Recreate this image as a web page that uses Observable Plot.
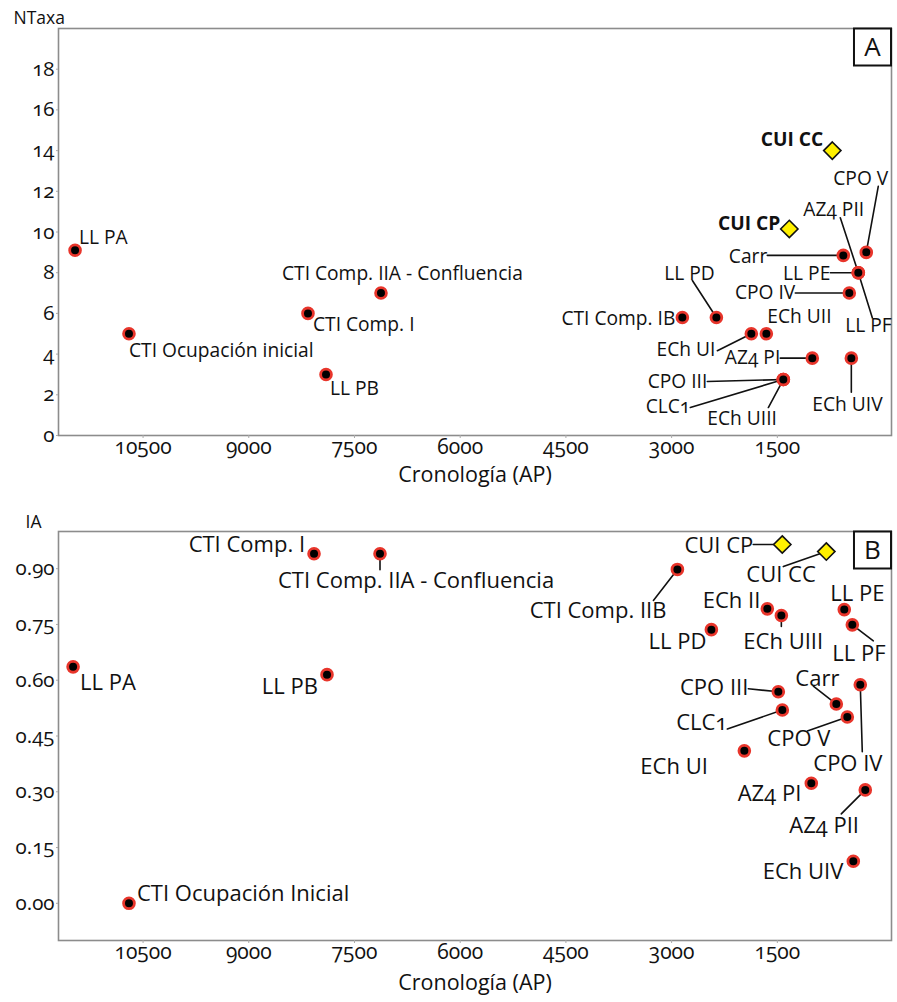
<!DOCTYPE html>
<html><head><meta charset="utf-8">
<script src="https://cdn.jsdelivr.net/npm/d3@7"></script>
<script src="https://cdn.jsdelivr.net/npm/@observablehq/plot@0.6"></script>
<style>
body{margin:0;background:#fff;width:897px;height:1002px;overflow:hidden;position:relative;font-family:"Open Sans",sans-serif;}
#border{position:absolute;left:10px;top:8px;width:900px;height:1000px;border-left:2px solid #3a3a3a;border-top:2px solid #3a3a3a;}
#a{position:absolute;left:0;top:0}
#b{position:absolute;left:0;top:490px}
svg text{font-variant-numeric:oldstyle-nums;font-feature-settings:"onum" 1;}
</style></head><body>
<div id="border"></div><div id="a"></div><div id="b"></div>
<script>
// ---------- Panel A data: NTaxa vs Cronología (AP) ----------
const namesA = ["LL PA","CTI Ocupación inicial","CTI Comp. I","CTI Comp. IIA - Confluencia","LL PB","CTI Comp. IB","LL PD","ECh UI","ECh UII","AZ4 PI","ECh UIV","CPO III","CLC1","ECh UIII","CUI CC","CUI CP","CPO V","AZ4 PII","LL PF","Carr","LL PE","CPO IV"];
const chronoA = [11465,10700,8160,7124,7904,2848,2365,1869,1656,1004,450,1415,1415,1415,720,1330,238,351,351,564,351,479];
const ntaxaA = [9.1,5,6,7,3,5.8,5.8,5,5,3.8,3.8,2.75,2.75,2.75,14,10.15,9,8,8,8.85,8,7];
const kindA = ["site","site","site","site","site","site","site","site","site","site","site","site","site","site","cui","cui","site","site","site","site","site","site"];

// ---------- Panel B data: IA vs Cronología (AP) ----------
const namesB = ["LL PA","CTI Ocupación Inicial","CTI Comp. I","CTI Comp. IIA - Confluencia","LL PB","CTI Comp. IIB","CUI CP","CUI CC","ECh II","ECh UIII","LL PD","LL PE","LL PF","CPO III","Carr","CLC1","CPO V","CPO IV","ECh UI","AZ4 PI","AZ4 PII","ECh UIV"];
const chronoB = [11493,10700,8074,7138,7890,2918,1430,805,1642,1443,2436,550,436,1486,663,1429,507,323,1968,1018,252,422];
const iaB = [0.636,0,0.94,0.94,0.615,0.898,0.965,0.946,0.792,0.774,0.736,0.79,0.749,0.569,0.536,0.52,0.501,0.588,0.41,0.323,0.305,0.113];
const kindB = ["site","site","site","site","site","site","cui","cui","site","site","site","site","site","site","site","site","site","site","site","site","site","site"];

// ---------- tick labels ----------
const xTicks = [10500,9000,7500,6000,4500,3000,1500];
const yTicksA = [0,2,4,6,8,10,12,14,16,18];
const yTicksB = [0,0.15,0.30,0.45,0.60,0.75,0.90];

// ---------- label layout (pixel offsets from each point) ----------
// [dx, dy, anchor, leaderEndX, leaderEndY]
const layoutA = [
 [4,-12,"start"],[0,17,"start"],[5,11,"start"],[-99,-19,"start"],[4,14,"start"],
 [-7,1,"end"],[-27,-44,"middle",-24,-37],[-36,16,"end",-34,17],[1,-17,"start"],
 [-32,0,"end",-32,0],[-39,47,"start",0,34],[-76,2,"end",-76,2],[-93,27,"end",-93,28],
 [-76,39,"start",-15,28],[-9,-11,"end"],[-9,-5,"end"],[-33,-74,"start",12,-66],
 [-55,-63,"start",-18,-55],[-13,53,"start",14,45],[-76,1,"end",-76,0],[-28,1,"end",-28,0],[-54,0,"end",-54,0]
];
const layoutB = [
 [7,16,"start"],[8,-9,"start"],[-9,-9,"end"],[-102,27,"start",0,16],[-9,12,"end"],
 [-11,42,"end",-24,31],[-29,1,"end",-29,0],[-80,23,"start",-43,15],[-7,-8,"end"],
 [-38,26,"start",0,11],[-5,12,"end"],[-14,-16,"start"],[-20,29,"start",21,16],
 [-30,-4,"end",-30,-3],[-41,-25,"start",-23,-18],[-55,13,"end",-55,19],[-80,22,"start",-40,14],
 [-47,79,"start",2,67],[-104,16,"start"],[-10,11,"end"],[-76,36,"start",-24,24],[-10,11,"end"]
];

const lineShape = {draw(ctx, l){ ctx.moveTo(0,0); ctx.lineTo(0,-l); }};

function rowsOf(names, xs, ys, kinds, layout, boldCui){
  return names.map((n,i)=>{
    const L = layout[i];
    return {name:n, x:xs[i], y:ys[i], kind:kinds[i], dx:L[0], dy:L[1], anchor:L[2],
      ex:L[3], ey:L[4], bold: boldCui && kinds[i]==="cui"};
  });
}

function panel({rows, yDomain, yTicks, yFormat, yLabel, letter, height, marginTop, marginBottom, labelSize, yLabelDx, yLabelDy, titleDy}){
  const leaders = rows.filter(d=>d.ex!==undefined);
  const labelMarks = [];
  for (const a of ["start","end","middle"]) {
    for (const b of [false,true]) {
      const sub = rows.filter(d=>d.anchor===a && d.bold===b);
      if (!sub.length) continue;
      labelMarks.push(Plot.text(sub, {
        x:"x", y:"y", text:"name", textAnchor:a, lineAnchor:"middle",
        fontSize:labelSize, fontWeight: b ? "bold" : "normal", fill:"#111",
        render(index, scales, values, dims, ctx, next){
          const g = next(index, scales, values, dims, ctx);
          d3.select(g).selectAll("text").each(function(_, k){
            const d = sub[index[k]];
            this.setAttribute("transform", `translate(${values.x[index[k]] + d.dx},${values.y[index[k]] + d.dy})`);
          });
          return g;
        }
      }));
    }
  }
  return Plot.plot({
    width:897, height, marginLeft:58, marginRight:6, marginTop, marginBottom,
    style:{fontFamily:"'Open Sans', sans-serif", background:"white", overflow:"visible"},
    x:{domain:[11700,-120]},
    y:{domain:yDomain},
    length:{type:"identity"},
    marks:[
      Plot.frame({stroke:"#8c8c8c", strokeWidth:1.6}),
      Plot.axisY({ticks:yTicks, tickFormat:yFormat, tickSize:2, tickPadding:2, fontSize:20.5, stroke:"#aaa", fill:"#111", label:null}),
      Plot.axisX({ticks:xTicks, tickFormat:d=>String(d), tickSize:3, tickPadding:1, fontSize:21, stroke:"#aaa", fill:"#111", label:null}),
      Plot.vector(leaders, {x:"x", y:"y", anchor:"start", shape:lineShape,
        length:d=>Math.hypot(d.ex,d.ey), rotate:d=>Math.atan2(d.ex,-d.ey)*180/Math.PI,
        stroke:"#111", strokeWidth:1.6}),
      Plot.dot(rows.filter(d=>d.kind==="site"), {x:"x", y:"y", r:5.4, fill:"#000", stroke:"#e8352b", strokeWidth:2.8}),
      Plot.dot(rows.filter(d=>d.kind==="cui"), {x:"x", y:"y", symbol:"diamond2", r:7.8, fill:"#fff000", stroke:"#111", strokeWidth:1.6}),
      ...labelMarks,
      Plot.dot([letter], {frameAnchor:"top-right", dx:-19, dy:18.5, symbol:"square", r:20.9, fill:"white", stroke:"#111", strokeWidth:2}),
      Plot.text([letter], {frameAnchor:"top-right", dx:-19, dy:19, text:d=>d, textAnchor:"middle", lineAnchor:"middle", fontSize:26, fill:"#111"}),
      Plot.text([yLabel], {frameAnchor:"top-left", dx:yLabelDx, dy:yLabelDy, text:d=>d, textAnchor:"start", lineAnchor:"middle", fontSize:17.5, fill:"#111"}),
      Plot.text(["Cronología (AP)"], {frameAnchor:"bottom", dy:titleDy, text:d=>d, textAnchor:"middle", lineAnchor:"middle", fontSize:21.5, fill:"#111"})
    ]
  });
}

const rowsA = rowsOf(namesA, chronoA, ntaxaA, kindA, layoutA, true);
const rowsB = rowsOf(namesB, chronoB, iaB, kindB, layoutB, false);

document.getElementById("a").append(panel({rows:rowsA, yDomain:[0,20], yTicks:yTicksA, yFormat:d=>String(d),
  yLabel:"NTaxa", letter:"A", height:490, marginTop:28, marginBottom:55, labelSize:19.2, yLabelDx:-45, yLabelDy:-10, titleDy:40}));
document.getElementById("b").append(panel({rows:rowsB, yDomain:[-0.1,1.0], yTicks:yTicksB, yFormat:d3.format(".2f"),
  yLabel:"IA", letter:"B", height:512, marginTop:41, marginBottom:62, labelSize:22, yLabelDx:-33, yLabelDy:-9, titleDy:43}));
</script>
</body></html>
